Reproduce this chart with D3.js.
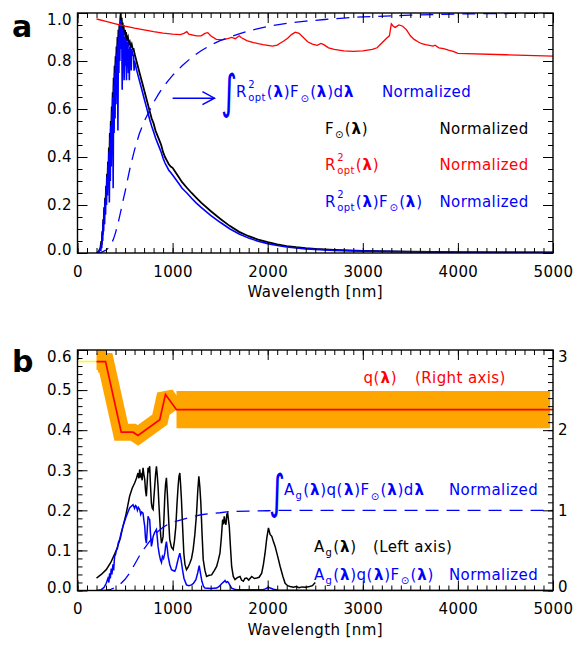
<!DOCTYPE html>
<html><head><meta charset="utf-8">
<script src="https://cdn.jsdelivr.net/npm/d3@7"></script>
<style>body{margin:0;background:#fff} svg text{font-family:"DejaVu Sans",sans-serif}</style>
</head><body><svg id="c" width="577" height="645"></svg>
<script>
// ---------------- DATA ----------------
// Panel a : solar flux F(λ), normalized
const fLam = [200,220,240,250,255,260,265,270,275,280,285,290,295,300,305,310,315,320,325,330,335,340,345,350,355,360,365,370,375,380,385,390,395,400,405,410,415,420,425,430,435,440,445,450,455,460,465,470,475,480,485,490,500,505,510,520,530,540,550,560,570,580,590,600,620,640,660,680,700,720,740,760,780,800,820,840,860,880,900,920,940,960,980,1000,1050,1100,1150,1200,1250,1300,1400,1500,1600,1700,1800,1900,2000,2100,2200,2300,2400,2500,2700,3000,3500,4000,4500,5000];
const fVal = [0,0.004,0.02,0.05,0.035,0.09,0.075,0.14,0.12,0.19,0.16,0.23,0.20,0.28,0.25,0.33,0.29,0.38,0.34,0.44,0.38,0.50,0.45,0.55,0.50,0.61,0.56,0.67,0.60,0.73,0.66,0.78,0.72,0.82,0.76,0.86,0.81,0.90,0.84,0.93,0.88,0.95,0.91,0.98,1.00,0.94,0.98,0.93,0.96,0.92,0.95,0.91,0.93,0.89,0.92,0.89,0.90,0.87,0.88,0.86,0.87,0.85,0.85,0.83,0.80,0.77,0.74,0.71,0.68,0.65,0.62,0.59,0.56,0.54,0.51,0.49,0.47,0.45,0.42,0.40,0.385,0.37,0.36,0.355,0.325,0.295,0.272,0.25,0.23,0.21,0.175,0.143,0.113,0.088,0.07,0.056,0.045,0.036,0.029,0.024,0.02,0.017,0.013,0.009,0.006,0.004,0.003,0.002];

// Panel a : R²opt(λ)F(λ), normalized
const rfLam = [200,220,240,245,250,255,260,265,270,275,280,285,290,295,300,305,310,315,320,325,330,335,340,345,350,355,360,365,370,375,380,385,390,395,400,405,410,415,420,425,430,435,440,445,450,455,460,465,470,475,480,485,490,500,505,510,515,520,530,535,540,545,550,560,565,570,580,590,595,600,620,640,660,680,700,720,740,760,780,800,820,840,860,880,900,920,940,960,980,1000,1050,1100,1150,1200,1250,1300,1400,1500,1600,1700,1800,1900,2000,2100,2200,2300,2400,2500,2700,3000,3500,4000,4500,5000];
const rfVal = [0,0.004,0.018,0.008,0.04,0.02,0.08,0.05,0.13,0.09,0.18,0.12,0.22,0.16,0.27,0.20,0.32,0.24,0.37,0.27,0.42,0.21,0.48,0.30,0.53,0.36,0.59,0.45,0.65,0.27,0.70,0.50,0.75,0.56,0.79,0.62,0.83,0.70,0.87,0.51,0.90,0.75,0.93,0.80,0.96,0.97,0.85,0.94,0.68,0.93,0.80,0.92,0.72,0.90,0.78,0.89,0.72,0.87,0.88,0.75,0.85,0.72,0.86,0.84,0.76,0.85,0.83,0.82,0.76,0.80,0.765,0.735,0.705,0.675,0.645,0.615,0.585,0.555,0.528,0.505,0.48,0.46,0.44,0.42,0.395,0.375,0.36,0.345,0.335,0.325,0.298,0.27,0.25,0.228,0.208,0.19,0.157,0.128,0.101,0.079,0.062,0.049,0.039,0.031,0.025,0.021,0.017,0.015,0.011,0.008,0.005,0.0033,0.0025,0.0016];

// Panel a : R²opt(λ), normalized
const rLam = [200,300,400,500,600,700,800,900,1000,1080,1120,1150,1170,1250,1300,1340,1370,1400,1460,1520,1580,1620,1660,1700,1720,1780,1850,1900,1950,2000,2050,2100,2130,2165,2210,2250,2290,2330,2370,2420,2470,2520,2560,2590,2640,2700,2800,2900,3000,3100,3150,3200,3250,3280,3300,3320,3340,3380,3420,3460,3500,3540,3580,3620,3660,3700,3740,3760,3800,3850,3900,3950,4000,4500,5000];
const rVal = [0.975,0.965,0.955,0.945,0.937,0.93,0.922,0.916,0.912,0.91,0.915,0.922,0.912,0.905,0.905,0.915,0.918,0.905,0.89,0.888,0.893,0.898,0.893,0.905,0.898,0.885,0.877,0.872,0.868,0.865,0.862,0.866,0.874,0.882,0.895,0.91,0.92,0.915,0.90,0.88,0.87,0.865,0.873,0.868,0.855,0.848,0.842,0.84,0.842,0.848,0.855,0.875,0.895,0.905,0.955,0.945,0.94,0.95,0.945,0.93,0.905,0.89,0.88,0.872,0.868,0.865,0.862,0.866,0.855,0.852,0.845,0.84,0.832,0.826,0.82];

// Panel a : cumulative integral of R²F, normalized
const irfLam = [200,250,300,350,380,400,430,450,480,500,550,600,650,700,750,800,850,900,950,1000,1100,1200,1300,1400,1500,1600,1700,1800,1900,2000,2200,2400,2600,2800,3000,3500,4000,4500,5000];
const irfVal = [0,0.003,0.012,0.03,0.06,0.085,0.13,0.165,0.22,0.255,0.35,0.43,0.497,0.547,0.588,0.627,0.661,0.691,0.716,0.74,0.78,0.815,0.843,0.866,0.885,0.90,0.913,0.925,0.935,0.944,0.957,0.966,0.973,0.979,0.984,0.991,0.996,0.998,1.0];

// Panel b : q(λ) (right axis)
const qLam = [200,295,460,584,636,865,925,1041,5000];
const qVal = [2.855,2.855,1.975,1.975,1.934,2.13,2.446,2.255,2.255];
const qExtLam = [0,200];          // extrapolated part (yellow)
const qExtVal = [2.855,2.855];
const qErrLam1 = [215,300], qErrLo1 = [2.72,2.72], qErrHi1 = [3.0,3.0];
const qErrLam2 = [1041,4970], qErrLo2 = [2.025,2.025], qErrHi2 = [2.49,2.49];

// Panel b : geometric albedo Ag(λ) (left axis)
const agLam = [200,250,302,350,408,450,478,510,548,575,601,620,636,645,654,662,671,680,689,698,707,715,724,733,742,750,759,768,777,786,795,803,812,821,830,838,847,856,865,874,883,892,900,909,918,926,935,944,953,962,970,988,1006,1020,1034,1046,1058,1067,1076,1084,1093,1105,1118,1130,1146,1163,1181,1199,1216,1234,1252,1265,1276,1286,1297,1310,1322,1340,1357,1385,1410,1440,1463,1480,1498,1512,1526,1535,1543,1552,1561,1570,1579,1588,1596,1608,1621,1638,1656,1680,1709,1725,1744,1760,1779,1800,1832,1860,1885,1910,1937,1955,1972,1990,2008,2025,2043,2060,2078,2105,2131,2160,2183,2210,2236,2270,2300,2330,2360,2400,2440,2470,2500];
const agVal = [0.031,0.040,0.052,0.07,0.10,0.13,0.16,0.19,0.235,0.255,0.268,0.28,0.293,0.28,0.302,0.285,0.289,0.275,0.306,0.29,0.277,0.25,0.235,0.27,0.306,0.30,0.31,0.26,0.218,0.205,0.202,0.23,0.26,0.29,0.31,0.29,0.26,0.215,0.177,0.14,0.118,0.125,0.135,0.18,0.235,0.265,0.281,0.245,0.202,0.16,0.127,0.108,0.102,0.125,0.16,0.215,0.26,0.285,0.293,0.265,0.227,0.16,0.093,0.065,0.052,0.058,0.068,0.08,0.102,0.14,0.193,0.25,0.285,0.26,0.218,0.14,0.077,0.05,0.035,0.038,0.039,0.05,0.06,0.075,0.093,0.13,0.177,0.165,0.185,0.17,0.164,0.19,0.193,0.175,0.16,0.11,0.06,0.035,0.027,0.032,0.035,0.026,0.023,0.03,0.031,0.026,0.035,0.03,0.031,0.033,0.043,0.065,0.093,0.13,0.156,0.14,0.135,0.122,0.11,0.085,0.06,0.035,0.018,0.012,0.01,0.008,0.01,0.007,0.009,0.008,0.01,0.012,0.02];

// Panel b : Ag(λ)q(λ)F(λ), normalized (left axis)
const aqfLam = [200,250,280,302,320,330,338,345,355,362,373,380,390,400,408,420,430,443,460,478,495,513,530,548,565,584,600,610,619,630,640,654,665,675,689,698,707,715,724,733,742,750,759,768,777,786,795,812,830,838,847,860,872,883,893,905,918,926,935,944,953,970,988,1005,1023,1035,1048,1060,1076,1090,1104,1120,1146,1170,1199,1220,1245,1265,1280,1295,1308,1325,1340,1400,1463,1490,1515,1540,1551,1565,1578,1586,1605,1621,1650,1674,1950,1975,2008,2040,2060,2100,2500,5000];
const aqfVal = [0,0.002,0.008,0.018,0.03,0.02,0.043,0.03,0.055,0.04,0.065,0.05,0.085,0.09,0.10,0.105,0.12,0.127,0.145,0.16,0.172,0.185,0.195,0.206,0.21,0.214,0.205,0.212,0.21,0.20,0.207,0.202,0.19,0.196,0.193,0.175,0.16,0.13,0.118,0.15,0.185,0.18,0.177,0.14,0.11,0.12,0.135,0.145,0.152,0.135,0.11,0.09,0.077,0.07,0.085,0.08,0.093,0.11,0.122,0.105,0.085,0.065,0.052,0.05,0.048,0.055,0.068,0.08,0.093,0.075,0.052,0.03,0.014,0.012,0.014,0.018,0.027,0.045,0.062,0.04,0.023,0.01,0.006,0.005,0.006,0.01,0.017,0.022,0.025,0.02,0.022,0.02,0.012,0.006,0.003,0.002,0.002,0.004,0.008,0.005,0.003,0.001,0,0];

// Panel b : cumulative integral of AgqF (left axis)
const iaqfLam = [250,300,350,400,450,500,550,600,650,700,750,800,850,900,950,1000,1100,1200,1300,1400,1500,1600,1800,2000,2100,5000];
const iaqfVal = [0,0.001,0.003,0.008,0.016,0.028,0.044,0.065,0.086,0.104,0.12,0.135,0.148,0.158,0.165,0.17,0.177,0.184,0.189,0.192,0.194,0.197,0.198,0.199,0.2,0.2];

// Tick values
const xMajor = [0,1000,2000,3000,4000,5000];
const xMinor = d3.range(0,5001,100);
const yaMajor = [0,0.2,0.4,0.6,0.8,1.0];
const yaMinor = d3.range(0,1.0001,0.05);
const ybMajor = [0,0.1,0.2,0.3,0.4,0.5,0.6];
const ybMinor = d3.range(0,0.6001,0.02);
const ybrMajor = [0,1,2,3];
const ybrMinor = d3.range(0,3.0001,0.1);

// ---------------- DRAWING ----------------
const FONT = '"DejaVu Sans", sans-serif';
const FS = 15;
const svg = d3.select('#c');
const zip = (a,b) => a.map((v,i)=>[v,b[i]]);
const BLUE = '#0000ff', RED = '#ff0000', ORANGE = '#ffa500';

function axes(g, x, y, yMajor, yMinor, yFmt, yr, yrMajor, yrMinor) {
  const [x0,x1] = x.range(); const [yb,yt] = y.range();
  const style = sel => { sel.select('.domain').remove();
    sel.selectAll('line').attr('stroke','#000').attr('stroke-width',1);
    sel.selectAll('text').style('font-family',FONT).style('font-size',FS+'px').attr('fill','#000').style('letter-spacing','0.4px'); return sel; };
  const noL = () => '';
  style(g.append('g').attr('transform',`translate(0,${yb})`).call(d3.axisBottom(x).tickValues(xMajor).tickSize(-10).tickPadding(13).tickFormat(d3.format('d'))));
  style(g.append('g').attr('transform',`translate(0,${yb})`).call(d3.axisBottom(x).tickValues(xMinor).tickSize(-5).tickFormat(noL)));
  style(g.append('g').attr('transform',`translate(0,${yt})`).call(d3.axisTop(x).tickValues(xMajor).tickSize(-10).tickFormat(noL)));
  style(g.append('g').attr('transform',`translate(0,${yt})`).call(d3.axisTop(x).tickValues(xMinor).tickSize(-5).tickFormat(noL)));
  const ymax = d3.max(yMajor);
  const la = style(g.append('g').attr('transform',`translate(${x0},0)`).call(d3.axisLeft(y).tickValues(yMajor).tickSize(-10).tickPadding(5.5).tickFormat(d3.format(yFmt))));
  la.selectAll('text').attr('y', d => Math.abs(d-ymax)<1e-9 ? 6.5 : (d===0 ? -3 : 0));
  style(g.append('g').attr('transform',`translate(${x0},0)`).call(d3.axisLeft(y).tickValues(yMinor).tickSize(-5).tickFormat(noL)));
  if (yr) {
    const rmax = d3.max(yrMajor);
    const ra = style(g.append('g').attr('transform',`translate(${x1},0)`).call(d3.axisRight(yr).tickValues(yrMajor).tickSize(-10).tickPadding(5).tickFormat(d3.format('d'))));
    ra.selectAll('text').attr('y', d => d===rmax ? 6.5 : (d===0 ? -3.5 : 0));
    style(g.append('g').attr('transform',`translate(${x1},0)`).call(d3.axisRight(yr).tickValues(yrMinor).tickSize(-5).tickFormat(noL)));
  } else {
    style(g.append('g').attr('transform',`translate(${x1},0)`).call(d3.axisRight(y).tickValues(yMajor).tickSize(-10).tickFormat(noL)));
    style(g.append('g').attr('transform',`translate(${x1},0)`).call(d3.axisRight(y).tickValues(yMinor).tickSize(-5).tickFormat(noL)));
  }
  g.append('rect').attr('x',x0).attr('y',yt).attr('width',x1-x0).attr('height',yb-yt)
    .attr('fill','none').attr('stroke','#000').attr('stroke-width',1.4);
  g.append('text').attr('x',(x0+x1)/2).attr('y',yb+44).attr('text-anchor','middle')
    .style('font-size',FS+'px').style('letter-spacing','0.4px').text('Wavelength [nm]');
}

// math text helper
function mtext(g, x, y, parts, color) {
  let cx = x;
  const add = (t, xx, yy, size, bold) => g.append('text').attr('x',xx).attr('y',yy).attr('fill',color)
      .style('font-size',size+'px').style('font-weight',bold?'bold':null).style('letter-spacing','0.4px').text(t);
  parts.forEach(p => {
    if (p.k==='n' || p.k==='l') { const e = add(p.t, cx, y, FS, p.k==='l'); cx += e.node().getComputedTextLength() + (p.t.length*0.4); }
    else if (p.k==='sub') { const e = add(p.t, cx+0.5, y+4, 10, false); cx += e.node().getComputedTextLength() + 1.5; }
    else if (p.k==='sun') { const e = add(p.t, cx+0.5, y+4.5, 10, false); cx += e.node().getComputedTextLength() + 1.5; }
    else if (p.k==='ss') { const a = add(p.t[0], cx+1, y-9, 10, false); const b = add(p.t[1], cx+1, y+4, 10, false);
      cx += Math.max(a.node().getComputedTextLength(), b.node().getComputedTextLength()) + 2; }
  });
  return cx;
}
// tall thin integral sign: x = left, yb = bottom of glyph
function integral(g, x, ybot, color) {
  g.append('text').attr('fill',color).style('font-size','36px')
    .attr('transform',`translate(${x},${ybot-4.5}) scale(0.85,1.3)`).text('∫');
}
const L = () => ({t:'λ', k:'l'});
const N = t => ({t, k:'n'});

// ---------- Panel a ----------
const xa = d3.scaleLinear([0,5000],[77.5,553]);
const ya = d3.scaleLinear([0,1],[253,13]);
const ga = svg.append('g');
svg.append('clipPath').attr('id','clipA').append('rect').attr('x',77.5).attr('y',13).attr('width',553-77.5).attr('height',240);
const pa = ga.append('g').attr('clip-path','url(#clipA)');
const lineA = d3.line().x(d=>xa(d[0])).y(d=>ya(d[1]));
pa.append('path').attr('d',lineA(zip(fLam,fVal))).attr('fill','none').attr('stroke','#000').attr('stroke-width',1.8);
pa.append('path').attr('d',lineA(zip(rfLam,rfVal))).attr('fill','none').attr('stroke',BLUE).attr('stroke-width',1.6);
pa.append('path').attr('d',lineA(zip(rLam,rVal))).attr('fill','none').attr('stroke',RED).attr('stroke-width',1.3);
pa.append('path').attr('d',lineA(zip(irfLam,irfVal))).attr('fill','none').attr('stroke',BLUE).attr('stroke-width',1.3).attr('stroke-dasharray','13,8');
axes(ga, xa, ya, yaMajor, yaMinor, '.1f');

// annotations a
const ay = ya(0.645);
ga.append('line').attr('x1',xa(1000)).attr('x2',xa(1440)).attr('y1',ay).attr('y2',ay).attr('stroke',BLUE).attr('stroke-width',1.5);
ga.append('path').attr('d',`M${xa(1440)-12},${ay-6.5}L${xa(1440)},${ay}L${xa(1440)-12},${ay+6.5}`).attr('fill','none').attr('stroke',BLUE).attr('stroke-width',1.5);
integral(ga, 221, 112, BLUE);
mtext(ga, 236, 97, [N('R'),{t:['2','opt'],k:'ss'},N('('),L(),N(')F'),{t:'⊙',k:'sun'},N('('),L(),N(')d'),L()], BLUE);
mtext(ga, 382, 97, [N('Normalized')], BLUE);
mtext(ga, 325, 133.5, [N('F'),{t:'⊙',k:'sun'},N('('),L(),N(')')], '#000');
mtext(ga, 439.5, 133.5, [N('Normalized')], '#000');
mtext(ga, 325, 170, [N('R'),{t:['2','opt'],k:'ss'},N('('),L(),N(')')], RED);
mtext(ga, 439.5, 170, [N('Normalized')], RED);
mtext(ga, 325, 206.5, [N('R'),{t:['2','opt'],k:'ss'},N('('),L(),N(')F'),{t:'⊙',k:'sun'},N('('),L(),N(')')], BLUE);
mtext(ga, 439.5, 206.5, [N('Normalized')], BLUE);
ga.append('text').attr('x',12).attr('y',37).style('font-size','30px').style('font-weight','bold').text('a');

// ---------- Panel b ----------
const xb = d3.scaleLinear([0,5000],[77.5,553]);
const yb = d3.scaleLinear([0,0.6],[590.5,350]);
const ybr = d3.scaleLinear([0,3],[590.5,350]);
const gb = svg.append('g');
svg.append('clipPath').attr('id','clipB').append('rect').attr('x',77.5).attr('y',350).attr('width',553-77.5).attr('height',240.5);
const pb = gb.append('g').attr('clip-path','url(#clipB)');
const lineBL = d3.line().x(d=>xb(d[0])).y(d=>yb(d[1]));
const lineBR = d3.line().x(d=>xb(d[0])).y(d=>ybr(d[1]));
const areaBR = d3.area().x(d=>xb(d[0])).y0(d=>ybr(d[1])).y1(d=>ybr(d[2]));
pb.append('path').attr('d',areaBR(qErrLam1.map((l,i)=>[l,qErrLo1[i],qErrHi1[i]]))).attr('fill',ORANGE);
pb.append('path').attr('d',areaBR(qErrLam2.map((l,i)=>[l,qErrLo2[i],qErrHi2[i]]))).attr('fill',ORANGE);
pb.append('path').attr('d',lineBR(zip(qLam,qVal).filter(d=>d[0]<=1041))).attr('fill','none').attr('stroke',ORANGE).attr('stroke-width',17).attr('stroke-linejoin','miter').attr('stroke-miterlimit',2);
pb.append('path').attr('d',lineBR(zip(qExtLam,qExtVal))).attr('fill','none').attr('stroke','#ffff00').attr('stroke-width',1.5);
pb.append('path').attr('d',lineBR(zip(qLam,qVal))).attr('fill','none').attr('stroke',RED).attr('stroke-width',1.7);
pb.append('path').attr('d',lineBL(zip(agLam,agVal))).attr('fill','none').attr('stroke','#000').attr('stroke-width',1.5);
pb.append('path').attr('d',lineBL(zip(aqfLam,aqfVal))).attr('fill','none').attr('stroke',BLUE).attr('stroke-width',1.5);
pb.append('path').attr('d',lineBL(zip(iaqfLam,iaqfVal))).attr('fill','none').attr('stroke',BLUE).attr('stroke-width',1.3).attr('stroke-dasharray','13,8');
axes(gb, xb, yb, ybMajor, ybMinor, '.1f', ybr, ybrMajor, ybrMinor);

// annotations b
mtext(gb, 363.5, 382.5, [N('q('),L(),N(')')], RED);
mtext(gb, 415, 382.5, [N('(Right axis)')], RED);
integral(gb, 269, 512, BLUE);
mtext(gb, 284, 495, [N('A'),{t:'g',k:'sub'},N('('),L(),N(')q('),L(),N(')F'),{t:'⊙',k:'sun'},N('('),L(),N(')d'),L()], BLUE);
mtext(gb, 449, 495, [N('Normalized')], BLUE);
mtext(gb, 314, 551.5, [N('A'),{t:'g',k:'sub'},N('('),L(),N(')')], '#000');
mtext(gb, 373, 551.5, [N('(Left axis)')], '#000');
mtext(gb, 314, 579.5, [N('A'),{t:'g',k:'sub'},N('('),L(),N(')q('),L(),N(')F'),{t:'⊙',k:'sun'},N('('),L(),N(')')], BLUE);
mtext(gb, 449, 579.5, [N('Normalized')], BLUE);
gb.append('text').attr('x',12).attr('y',372).style('font-size','30px').style('font-weight','bold').text('b');
</script></body></html>
